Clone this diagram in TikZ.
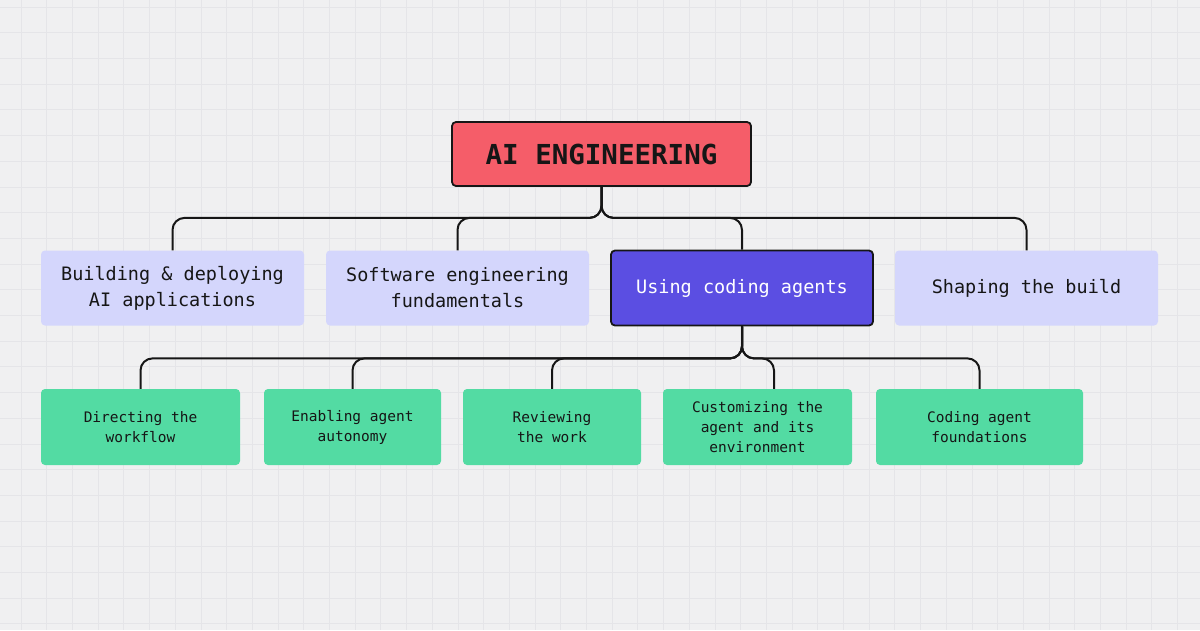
\documentclass[tikz,border=0pt]{standalone}
\usepackage{fontspec}
\setmonofont{DejaVu Sans Mono}
\begin{document}
\begin{tikzpicture}[x=1pt,y=-1pt,
  gridline/.style={draw=gridc,line width=0.8pt},
  conn/.style={draw=ink,line width=2pt,rounded corners=12pt},
  topbox/.style={rectangle,rounded corners=4pt,fill=redc,draw=ink,line width=1.8pt,
     minimum width=299pt,minimum height=64pt,inner sep=0pt,
     font=\fontsize{27.5}{30}\selectfont\ttfamily\bfseries,text=ink},
  lavbox/.style={rectangle,rounded corners=4pt,fill=lavc,minimum width=263pt,minimum height=75pt,
     inner sep=0pt,align=center,text=ink,font=\fontsize{18.5}{26}\selectfont\ttfamily},
  purbox/.style={lavbox,fill=purc,draw=ink,line width=1.8pt,minimum width=262pt,text=white},
  grbox/.style={rectangle,rounded corners=4pt,fill=grc,minimum height=76pt,inner sep=0pt,
     align=center,text=ink,font=\fontsize{14.5}{20}\selectfont\ttfamily}]
\definecolor{bgc}{HTML}{F0F0F1}
\definecolor{gridc}{HTML}{E5E5E8}
\definecolor{ink}{HTML}{161616}
\definecolor{redc}{HTML}{F55D69}
\definecolor{lavc}{HTML}{D4D6FC}
\definecolor{purc}{HTML}{5B4EE2}
\definecolor{grc}{HTML}{53DBA3}
\path[fill=bgc] (0,0) rectangle (1200,630);
\useasboundingbox (0,0) rectangle (1200,630);
\foreach \i in {0,...,46} \draw[gridline] ({21+25.7*\i},0) -- ++(0,630);
\foreach \j in {0,...,24} \draw[gridline] (0,{7+25.7*\j}) -- ++(1200,0);

\node[topbox] (top) at (601.5,154) {AI ENGINEERING};

\node[lavbox] (b1) at (172.5,288) {Building \& deploying\\AI applications};
\node[lavbox] (b2) at (457.5,288) {Software engineering\\fundamentals};
\node[purbox] (b3) at (742,288) {Using coding agents};
\node[lavbox] (b4) at (1026.5,288) {Shaping the build};

\node[grbox,minimum width=199pt] (c1) at (140.5,427) {Directing the\\workflow};
\node[grbox,minimum width=177pt] (c2) at (352.5,427) {Enabling agent\\autonomy};
\node[grbox,minimum width=178pt] (c3) at (552,427) {Reviewing\\the work};
\node[grbox,minimum width=189pt] (c4) at (757.5,427) {Customizing the\\agent and its\\environment};
\node[grbox,minimum width=207pt] (c5) at (979.5,427) {Coding agent\\foundations};
\coordinate (c4top) at (774,389);

\foreach \n in {b1,b2,b3,b4} \draw[conn] (top.south) -- ++(0,31) -| (\n.north);
\foreach \n in {c1,c2,c3,c4top,c5} \draw[conn] (b3.south) -- ++(0,32) -| (\n |- c1.north);
\end{tikzpicture}
\end{document}
